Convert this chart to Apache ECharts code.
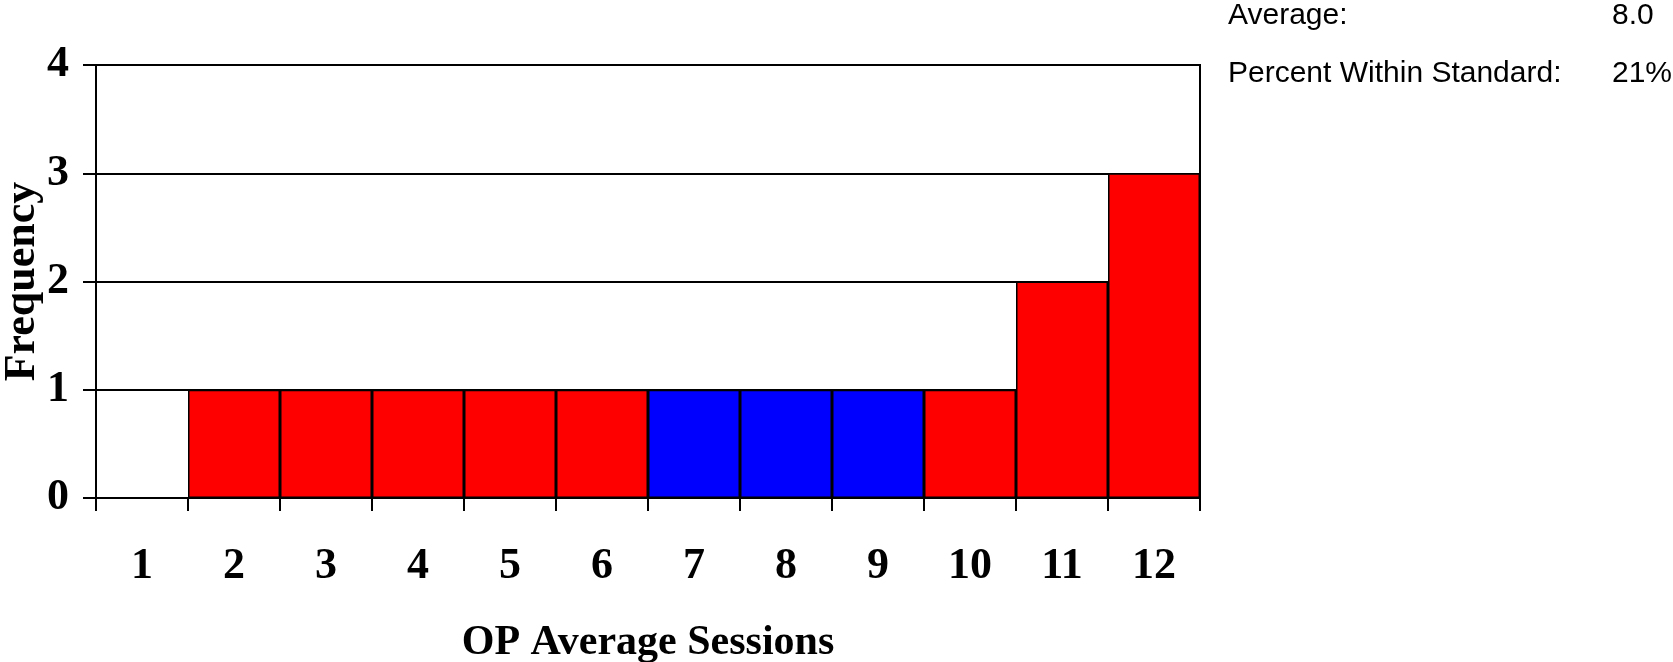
<!DOCTYPE html>
<html>
<head>
<meta charset="utf-8">
<script src="https://cdn.jsdelivr.net/npm/echarts@6/dist/echarts.min.js"></script>
<style>
  html, body { margin: 0; padding: 0; background: #fff; }
  #chart { width: 1673px; height: 662px; }
</style>
</head>
<body>
<div id="chart"></div>
<script>
// histogram bins and counts
const sessions = ['1', '2', '3', '4', '5', '6', '7', '8', '9', '10', '11', '12'];
const frequency = [0, 1, 1, 1, 1, 1, 1, 1, 1, 1, 2, 3];
// bins that fall within the standard (drawn blue)
const withinStandard = ['7', '8', '9'];
// summary box, top right
const statLabels = ['Average:', 'Percent Within Standard:'];
const statValues = ['8.0', '21%'];

const serif = '"Liberation Serif", "Times New Roman", serif';
const sans = '"Liberation Sans", Arial, sans-serif';

const chart = echarts.init(document.getElementById('chart'));

const statGraphics = [];
statLabels.forEach((label, i) => {
  const y = 16 + i * 58;
  statGraphics.push({
    type: 'text', x: 1228, y: y,
    style: { text: label, fontSize: 30, fontFamily: sans, fill: '#000', verticalAlign: 'middle' }
  });
  statGraphics.push({
    type: 'text', x: 1612, y: y,
    style: { text: statValues[i], fontSize: 30, fontFamily: sans, fill: '#000', verticalAlign: 'middle' }
  });
});

chart.setOption({
  backgroundColor: '#fff',
  animation: false,
  grid: {
    left: 96, right: 473, top: 65, bottom: 164,
    show: true, borderColor: '#000', borderWidth: 2,
    outerBoundsMode: 'none'
  },
  xAxis: {
    type: 'category',
    data: sessions,
    boundaryGap: true,
    name: 'OP Average Sessions',
    nameLocation: 'middle',
    nameGap: 124,
    nameMoveOverlap: false,
    nameTextStyle: { fontFamily: serif, fontWeight: 'bold', fontSize: 42, color: '#000' },
    axisLine: { lineStyle: { color: '#000', width: 2 } },
    axisTick: { show: true, length: 13, lineStyle: { color: '#000', width: 2 } },
    axisLabel: { margin: 47, fontFamily: serif, fontWeight: 'bold', fontSize: 44, color: '#000', interval: 0 },
    splitLine: { show: false }
  },
  yAxis: {
    type: 'value',
    min: 0, max: 4, interval: 1,
    name: 'Frequency',
    nameLocation: 'middle',
    nameGap: 51,
    nameMoveOverlap: false,
    nameTextStyle: { fontFamily: serif, fontWeight: 'bold', fontSize: 44, color: '#000' },
    axisLine: { show: true, lineStyle: { color: '#000', width: 2 } },
    axisTick: { show: true, length: 13, lineStyle: { color: '#000', width: 2 } },
    axisLabel: { margin: 27, fontFamily: serif, fontWeight: 'bold', fontSize: 44, color: '#000' },
    splitLine: { show: true, lineStyle: { color: '#000', width: 2 } }
  },
  series: [{
    type: 'bar',
    data: frequency.map((v, i) => ({
      value: v,
      itemStyle: { color: withinStandard.includes(sessions[i]) ? '#0000ff' : '#ff0000' }
    })),
    barCategoryGap: '0%',
    itemStyle: { borderColor: '#000', borderWidth: 1.5 },
    silent: true
  }],
  graphic: statGraphics
});
</script>
</body>
</html>
